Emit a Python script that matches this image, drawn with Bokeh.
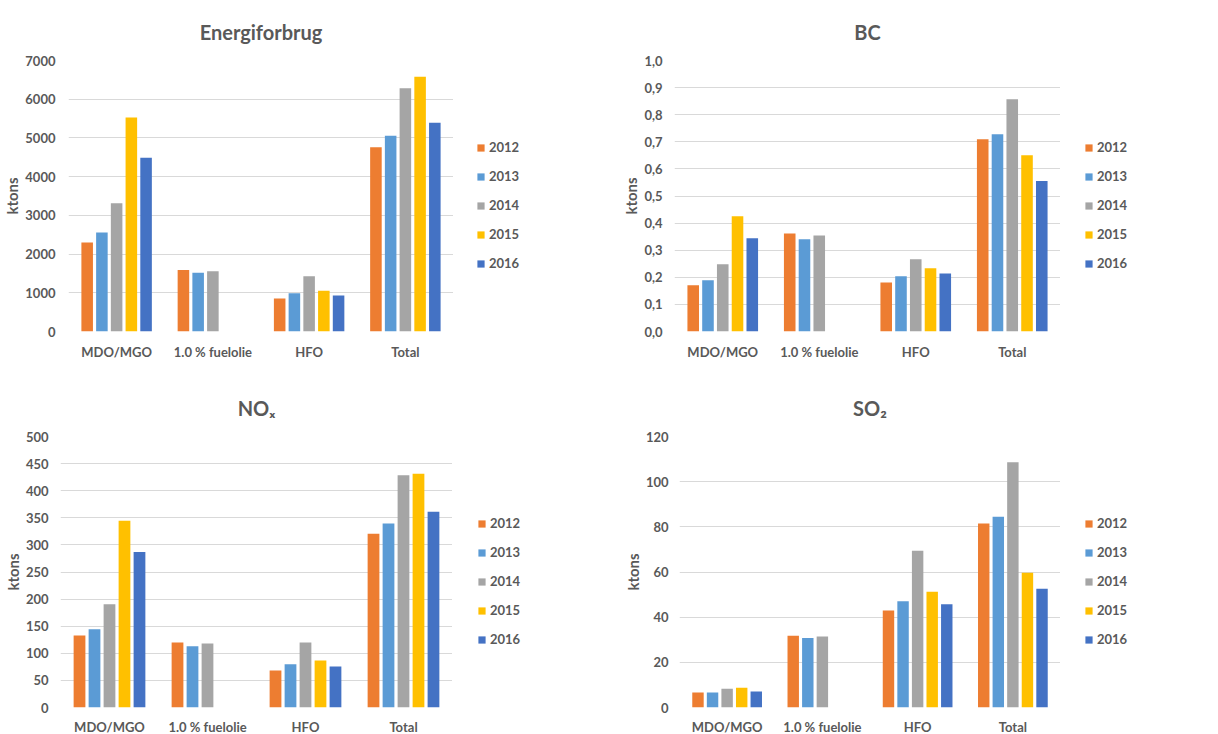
import numpy as np
from bokeh.plotting import figure
from bokeh.models import (ColumnDataSource, Range1d, FixedTicker, CustomJSTickFormatter,
                          Legend, LegendItem, Title)
from bokeh.layouts import column, row
from bokeh.transform import dodge
from bokeh.embed import file_html
from bokeh.resources import INLINE

categories = ["MDO/MGO", "1.0 % fuelolie", "HFO", "Total"]
years = ["2012", "2013", "2014", "2015", "2016"]
colors = ["#ED7D31", "#5B9BD5", "#A5A5A5", "#FFC000", "#4472C4"]

# Energiforbrug (ktons), order: MDO/MGO, 1.0 % fuelolie, HFO, Total
energi_2012 = [2300, 1590, 850, 4760]
energi_2013 = [2560, 1520, 990, 5055]
energi_2014 = [3310, 1555, 1430, 6280]
energi_2015 = [5530, None, 1050, 6580]
energi_2016 = [4490, None, 930, 5390]

# BC (ktons)
bc_2012 = [0.171, 0.362, 0.181, 0.709]
bc_2013 = [0.189, 0.340, 0.204, 0.728]
bc_2014 = [0.248, 0.354, 0.267, 0.857]
bc_2015 = [0.425, None, 0.233, 0.650]
bc_2016 = [0.344, None, 0.214, 0.555]

# NOx (ktons)
nox_2012 = [132.7, 119.8, 68.2, 320.6]
nox_2013 = [144.3, 113.0, 79.9, 339.7]
nox_2014 = [190.4, 117.9, 119.8, 428.7]
nox_2015 = [344.6, None, 86.6, 431.2]
nox_2016 = [286.9, None, 75.6, 361.2]

# SO2 (ktons)
so2_2012 = [6.6, 31.8, 43.0, 81.5]
so2_2013 = [6.6, 30.8, 47.0, 84.5]
so2_2014 = [8.3, 31.4, 69.4, 108.6]
so2_2015 = [8.8, None, 51.2, 59.7]
so2_2016 = [7.1, None, 45.7, 52.6]

FONT = "Lato"
GREY = "#595959"


def make_chart(title, series, y_end, y_step, decimals, fw, fh,
               bl, legend_w, bt, bb, tick_standoff, x_standoff, legend_x, title_standoff):
    p = figure(x_range=categories, y_range=Range1d(0, y_end), frame_width=fw, frame_height=fh,
               output_backend="svg", toolbar_location=None,
               min_border_left=bl, min_border_right=0, min_border_top=bt, min_border_bottom=bb)
    data = {"cat": categories}
    for y, vals in zip(years, series):
        data[y] = np.array([np.nan if v is None else v for v in vals], dtype=float)
    source = ColumnDataSource(data)
    offsets = [-0.306, -0.153, 0.0, 0.153, 0.306]
    for y, c, off in zip(years, colors, offsets):
        p.vbar(x=dodge("cat", off, range=p.x_range), top=y, width=0.12,
               source=source, fill_color=c, line_color=None)

    n = int(round(y_end / y_step))
    p.yaxis.ticker = FixedTicker(ticks=[round(i * y_step, 6) for i in range(n + 1)])
    if decimals:
        p.yaxis.formatter = CustomJSTickFormatter(code="return tick.toFixed(1).replace('.', ',');")
    else:
        p.yaxis.formatter = CustomJSTickFormatter(code="return tick.toFixed(0);")

    p.ygrid.grid_line_color = "#D9D9D9"
    p.ygrid.grid_line_width = 1
    p.xgrid.grid_line_color = None
    p.outline_line_color = None
    p.background_fill_color = "white"
    p.border_fill_color = "white"

    for ax in (p.xaxis, p.yaxis):
        ax.axis_line_color = None
        ax.major_tick_line_color = None
        ax.minor_tick_line_color = None
        ax.major_tick_out = 0
        ax.major_tick_in = 0
        ax.minor_tick_out = 0
        ax.minor_tick_in = 0
        ax.major_label_text_font = FONT
        ax.major_label_text_font_style = "bold"
        ax.major_label_text_font_size = "13px"
        ax.major_label_text_color = GREY
    p.yaxis.major_label_standoff = tick_standoff
    p.xaxis.major_label_standoff = x_standoff
    p.yaxis.axis_label = "ktons"
    p.yaxis.axis_label_text_font = FONT
    p.yaxis.axis_label_text_font_style = "bold"
    p.yaxis.axis_label_text_font_size = "15px"
    p.yaxis.axis_label_text_color = GREY
    p.yaxis.axis_label_standoff = 1

    p.add_layout(Title(text=title, align="center", text_font=FONT, text_font_style="bold",
                       text_font_size="20px", text_color=GREY, standoff=title_standoff), "above")

    # legend panel beside the chart
    lp = figure(x_range=Range1d(0, 1), y_range=Range1d(0, 1), frame_width=legend_w, frame_height=fh,
                output_backend="svg", toolbar_location=None,
                x_axis_location=None, y_axis_location=None,
                min_border_left=0, min_border_right=0, min_border_top=bt, min_border_bottom=bb)
    lp.xgrid.visible = False
    lp.ygrid.visible = False
    lp.outline_line_color = None
    lp.background_fill_color = "white"
    lp.border_fill_color = "white"
    items = []
    for y, c in zip(years, colors):
        proxy_src = ColumnDataSource(dict(x=np.array([np.nan]), top=np.array([np.nan])))
        proxy = lp.vbar(x="x", top="top", width=0.1, source=proxy_src,
                        fill_color=c, line_color=None)
        items.append(LegendItem(label=y, renderers=[proxy]))
    legend = Legend(items=items, location=(legend_x, 58), orientation="vertical",
                    border_line_color=None, background_fill_alpha=0, padding=0, margin=0,
                    spacing=9, glyph_height=9, glyph_width=9, label_standoff=4,
                    label_height=20, label_text_font=FONT, label_text_font_style="bold",
                    label_text_font_size="13px", label_text_color=GREY)
    lp.add_layout(legend)
    return row(p, lp)


c1 = make_chart("Energiforbrug",
                [energi_2012, energi_2013, energi_2014, energi_2015, energi_2016],
                7000, 1000, False, 385, 271, 68, 147, 60, 39, 13, 12, 23, 34)
c2 = make_chart("BC", [bc_2012, bc_2013, bc_2014, bc_2015, bc_2016],
                1.0, 0.1, True, 386, 271, 74, 158, 60, 39, 12, 12, 24, 34)
c3 = make_chart("NO\u2093", [nox_2012, nox_2013, nox_2014, nox_2015, nox_2016],
                500, 50, False, 392, 271, 60, 148, 66, 27, 12, 11, 25, 34)
c4 = make_chart("SO\u2082", [so2_2012, so2_2013, so2_2014, so2_2015, so2_2016],
                120, 20, False, 381, 271, 79, 158, 66, 27, 11, 11, 24, 34)

layout = column(row(c1, c2), row(c3, c4))
open("out.html", "w").write(file_html(layout, INLINE))
